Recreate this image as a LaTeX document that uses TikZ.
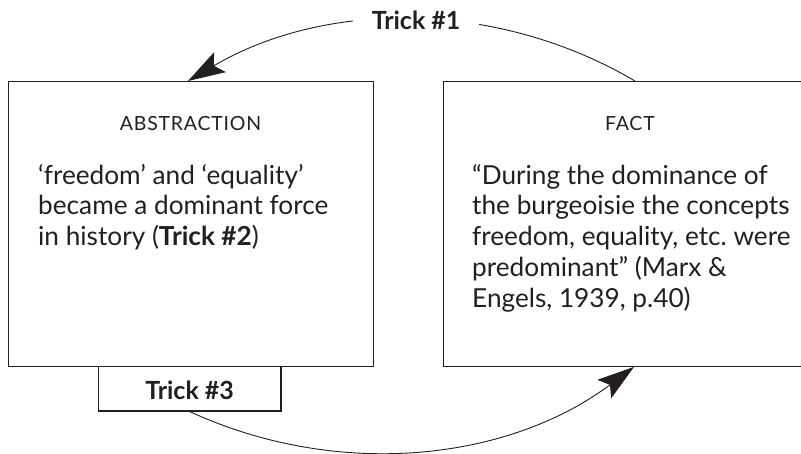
\documentclass[tikz,border=0pt]{standalone}
\usepackage{fontspec}
\setmainfont{Lato}
\usetikzlibrary{arrows.meta,calc}
\definecolor{ink}{HTML}{231F20}
\begin{document}
\frenchspacing
\begin{tikzpicture}[x=1pt,y=-1pt,
  panel/.style={draw=ink,line width=1.2pt,inner sep=0pt,anchor=north west},
  heading/.style={text=ink,inner sep=0pt,anchor=base,
    font=\fontsize{19.5}{21}\selectfont\addfontfeatures{LetterSpace=4}},
  body/.style={text=ink,inner sep=0pt,anchor=north west,align=left,
    font=\fontsize{26.2}{30.7}\selectfont},
  tricklabel/.style={text=ink,font=\fontsize{25}{28}\selectfont\bfseries},
  flow/.style={draw=ink,line width=0.9pt,
    -{Stealth[length=37pt,width=23pt,inset=7pt]}}]
\useasboundingbox (0,0) rectangle (801,453);

% the two panels and the tab under the left one
\node[panel,minimum width=365pt,minimum height=284.7pt] (abs) at (8,81) {};
\node[panel,minimum width=380pt,minimum height=284.7pt] (fact) at (443,81) {};
\node[panel,minimum width=182.6pt,minimum height=44.6pt] (t3) at (97.7,365.7) {};
\node[tricklabel,anchor=base,inner sep=0pt] (t3text) at ($(t3.south)+(0,-12)$) {Trick \#3};

% headings
\node[heading] (abshead) at (190.5,130) {ABSTRACTION};
\node[heading] (facthead) at (630,130) {FACT};

% panel texts
\node[body] (abstext) at (38,164) {‘freedom’ and ‘equality’\\became a dominant force\\in history (\textbf{Trick \#2})};
\node[body] (facttext) at (472,164) {“During the dominance of\\the burgeoisie the concepts\\freedom, equality, etc. were\\predominant” (Marx \&\\Engels, 1939, p.40)};

% connectors
\coordinate (f1) at ($(fact.north west)+(192,0)$);
\coordinate (a1) at ($(abs.north west)+(180,0)$);
\coordinate (f2) at ($(fact.south west)+(191,0)$);
\draw[flow] (f1) .. controls (497.2,-0.2) and (325.8,-0.2) .. node[pos=0.49,fill=white,inner xsep=19pt,inner ysep=4pt,tricklabel] (t1) {Trick \#1} (a1);
\draw[flow] (t3.south) .. controls (336.2,479.1) and (506.3,462.2) .. (f2);
\end{tikzpicture}
\end{document}
